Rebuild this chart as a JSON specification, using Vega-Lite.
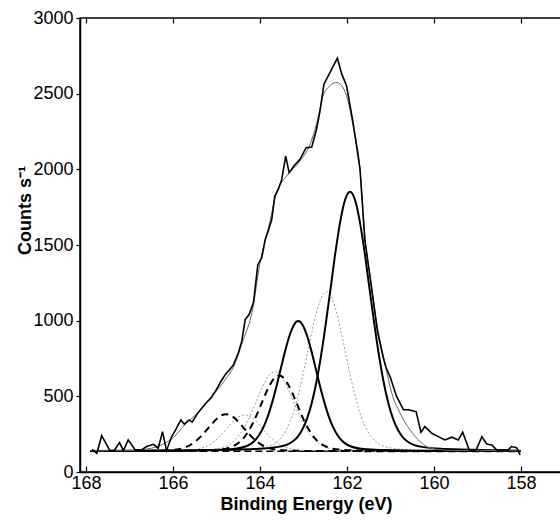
{
  "$schema": "https://vega.github.io/schema/vega-lite/v6.json",
  "width": 482,
  "height": 454,
  "autosize": {"type": "none"},
  "padding": {"left": 80, "top": 18, "right": 0, "bottom": 49},
  "config": {
    "view": {"stroke": "black", "strokeWidth": 1.5},
    "axis": {"domainColor": "black", "domainWidth": 1.5, "tickColor": "black", "tickWidth": 1.2, "labelColor": "black", "titleColor": "black", "labelFont": "Liberation Sans", "titleFont": "Liberation Sans", "labelFontSize": 18, "titleFontSize": 18, "grid": false, "labelFlush": false, "labelOverlap": false}
  },
  "datasets": {
    "base": [{"x": 167.9, "y": 137}, {"x": 158.0, "y": 137}],
    "raw": [
      {"x":167.86,"y":150},{"x":167.75,"y":124},{"x":167.64,"y":240},{"x":167.45,"y":141},{"x":167.35,"y":141},{"x":167.23,"y":194},{"x":167.14,"y":141},{"x":167.03,"y":212},{"x":166.87,"y":146},{"x":166.72,"y":146},{"x":166.61,"y":168},{"x":166.45,"y":183},{"x":166.34,"y":157},{"x":166.24,"y":267},{"x":166.15,"y":141},{"x":166.03,"y":234},{"x":165.94,"y":278},{"x":165.82,"y":344},{"x":165.74,"y":316},{"x":165.63,"y":344},{"x":165.56,"y":329},{"x":165.43,"y":389},{"x":165.34,"y":422},{"x":165.23,"y":459},{"x":165.13,"y":488},{"x":165.03,"y":532},{"x":164.97,"y":561},{"x":164.90,"y":598},{"x":164.80,"y":642},{"x":164.70,"y":676},{"x":164.61,"y":709},{"x":164.50,"y":786},{"x":164.42,"y":863},{"x":164.34,"y":1007},{"x":164.25,"y":1040},{"x":164.15,"y":1120},{"x":164.05,"y":1370},{"x":163.96,"y":1415},{"x":163.88,"y":1536},{"x":163.80,"y":1602},{"x":163.73,"y":1668},{"x":163.66,"y":1823},{"x":163.58,"y":1867},{"x":163.50,"y":1933},{"x":163.41,"y":2088},{"x":163.33,"y":1978},{"x":163.22,"y":2022},{"x":163.08,"y":2066},{"x":162.94,"y":2143},{"x":162.81,"y":2148},{"x":162.70,"y":2265},{"x":162.62,"y":2386},{"x":162.53,"y":2563},{"x":162.39,"y":2640},{"x":162.22,"y":2735},{"x":162.12,"y":2629},{"x":162.01,"y":2552},{"x":161.86,"y":2309},{"x":161.70,"y":2000},{"x":161.59,"y":1536},{"x":161.45,"y":1250},{"x":161.30,"y":930},{"x":161.17,"y":760},{"x":161.10,"y":687},{"x":161.01,"y":631},{"x":160.86,"y":499},{"x":160.70,"y":411},{"x":160.59,"y":411},{"x":160.41,"y":399},{"x":160.30,"y":262},{"x":160.21,"y":300},{"x":160.05,"y":256},{"x":159.90,"y":234},{"x":159.75,"y":212},{"x":159.59,"y":230},{"x":159.44,"y":212},{"x":159.34,"y":263},{"x":159.19,"y":146},{"x":159.03,"y":146},{"x":158.90,"y":234},{"x":158.79,"y":185},{"x":158.67,"y":179},{"x":158.56,"y":146},{"x":158.42,"y":146},{"x":158.29,"y":146},{"x":158.22,"y":168},{"x":158.10,"y":161},{"x":158.02,"y":113}
    ],
    "env": [
      {"x":167.9,"y":140},{"x":167.0,"y":142},{"x":166.6,"y":152},{"x":166.3,"y":175},{"x":166.0,"y":225},{"x":165.72,"y":315},{"x":165.42,"y":395},{"x":165.11,"y":499},{"x":164.8,"y":609},{"x":164.6,"y":700},{"x":164.4,"y":860},{"x":164.17,"y":1073},{"x":164.0,"y":1382},{"x":163.8,"y":1620},{"x":163.62,"y":1845},{"x":163.39,"y":1955},{"x":163.08,"y":2055},{"x":162.85,"y":2165},{"x":162.7,"y":2300},{"x":162.55,"y":2485},{"x":162.39,"y":2552},{"x":162.25,"y":2574},{"x":162.12,"y":2552},{"x":162.01,"y":2485},{"x":161.86,"y":2287},{"x":161.7,"y":2000},{"x":161.59,"y":1560},{"x":161.45,"y":1250},{"x":161.3,"y":960},{"x":161.13,"y":720},{"x":160.97,"y":521},{"x":160.78,"y":389},{"x":160.55,"y":278},{"x":160.32,"y":201},{"x":160.17,"y":168},{"x":159.94,"y":150},{"x":159.5,"y":142},{"x":158.0,"y":140}
    ],
    "comp": [
      {"s":"A","x":167.9,"y":139},{"s":"A","x":165.23,"y":144},{"s":"A","x":164.13,"y":152},{"s":"A","x":163.58,"y":166},{"s":"A","x":163.25,"y":202},{"s":"A","x":163.14,"y":231},{"s":"A","x":163.03,"y":279},{"s":"A","x":162.92,"y":351},{"s":"A","x":162.81,"y":456},{"s":"A","x":162.70,"y":598},{"s":"A","x":162.59,"y":780},{"s":"A","x":162.48,"y":995},{"s":"A","x":162.37,"y":1229},{"s":"A","x":162.26,"y":1463},{"s":"A","x":162.15,"y":1663},{"s":"A","x":162.04,"y":1802},{"s":"A","x":161.93,"y":1852},{"s":"A","x":161.82,"y":1802},{"s":"A","x":161.71,"y":1663},{"s":"A","x":161.60,"y":1463},{"s":"A","x":161.49,"y":1229},{"s":"A","x":161.38,"y":995},{"s":"A","x":161.27,"y":780},{"s":"A","x":161.16,"y":598},{"s":"A","x":161.05,"y":456},{"s":"A","x":160.94,"y":351},{"s":"A","x":160.83,"y":279},{"s":"A","x":160.72,"y":231},{"s":"A","x":160.61,"y":202},{"s":"A","x":160.28,"y":166},{"s":"A","x":159.73,"y":152},{"s":"A","x":158.63,"y":144},{"s":"A","x":158.0,"y":141},
      {"s":"B","x":167.9,"y":138},{"s":"B","x":166.12,"y":140},{"s":"B","x":165.12,"y":145},{"s":"B","x":164.62,"y":152},{"s":"B","x":164.32,"y":170},{"s":"B","x":164.22,"y":184},{"s":"B","x":164.12,"y":208},{"s":"B","x":164.02,"y":245},{"s":"B","x":163.92,"y":297},{"s":"B","x":163.82,"y":368},{"s":"B","x":163.72,"y":460},{"s":"B","x":163.62,"y":567},{"s":"B","x":163.52,"y":685},{"s":"B","x":163.42,"y":802},{"s":"B","x":163.32,"y":902},{"s":"B","x":163.22,"y":972},{"s":"B","x":163.12,"y":997},{"s":"B","x":163.02,"y":972},{"s":"B","x":162.92,"y":902},{"s":"B","x":162.82,"y":802},{"s":"B","x":162.72,"y":685},{"s":"B","x":162.62,"y":567},{"s":"B","x":162.52,"y":460},{"s":"B","x":162.42,"y":368},{"s":"B","x":162.32,"y":297},{"s":"B","x":162.22,"y":245},{"s":"B","x":162.12,"y":208},{"s":"B","x":162.02,"y":184},{"s":"B","x":161.92,"y":170},{"s":"B","x":161.62,"y":152},{"s":"B","x":161.12,"y":145},{"s":"B","x":160.12,"y":140},{"s":"B","x":158.0,"y":138},
      {"s":"C","x":167.9,"y":138},{"s":"C","x":165.62,"y":141},{"s":"C","x":164.57,"y":146},{"s":"C","x":164.045,"y":155},{"s":"C","x":163.73,"y":177},{"s":"C","x":163.625,"y":195},{"s":"C","x":163.52,"y":225},{"s":"C","x":163.415,"y":269},{"s":"C","x":163.31,"y":333},{"s":"C","x":163.205,"y":421},{"s":"C","x":163.10,"y":533},{"s":"C","x":162.995,"y":665},{"s":"C","x":162.89,"y":809},{"s":"C","x":162.785,"y":953},{"s":"C","x":162.68,"y":1076},{"s":"C","x":162.575,"y":1161},{"s":"C","x":162.47,"y":1192},{"s":"C","x":162.365,"y":1161},{"s":"C","x":162.26,"y":1076},{"s":"C","x":162.155,"y":953},{"s":"C","x":162.05,"y":809},{"s":"C","x":161.945,"y":665},{"s":"C","x":161.84,"y":533},{"s":"C","x":161.735,"y":421},{"s":"C","x":161.63,"y":333},{"s":"C","x":161.525,"y":269},{"s":"C","x":161.42,"y":225},{"s":"C","x":161.315,"y":195},{"s":"C","x":161.21,"y":177},{"s":"C","x":160.895,"y":155},{"s":"C","x":160.37,"y":146},{"s":"C","x":159.32,"y":141},{"s":"C","x":158.0,"y":138},
      {"s":"D","x":167.9,"y":138},{"s":"D","x":166.81,"y":139},{"s":"D","x":165.76,"y":142},{"s":"D","x":165.235,"y":146},{"s":"D","x":164.92,"y":157},{"s":"D","x":164.815,"y":166},{"s":"D","x":164.71,"y":181},{"s":"D","x":164.605,"y":203},{"s":"D","x":164.50,"y":235},{"s":"D","x":164.395,"y":278},{"s":"D","x":164.29,"y":334},{"s":"D","x":164.185,"y":400},{"s":"D","x":164.08,"y":471},{"s":"D","x":163.975,"y":543},{"s":"D","x":163.87,"y":604},{"s":"D","x":163.765,"y":647},{"s":"D","x":163.66,"y":662},{"s":"D","x":163.555,"y":647},{"s":"D","x":163.45,"y":604},{"s":"D","x":163.345,"y":543},{"s":"D","x":163.24,"y":471},{"s":"D","x":163.135,"y":400},{"s":"D","x":163.03,"y":334},{"s":"D","x":162.925,"y":278},{"s":"D","x":162.82,"y":235},{"s":"D","x":162.715,"y":203},{"s":"D","x":162.61,"y":181},{"s":"D","x":162.505,"y":166},{"s":"D","x":162.40,"y":157},{"s":"D","x":162.085,"y":146},{"s":"D","x":161.56,"y":142},{"s":"D","x":160.51,"y":139},{"s":"D","x":158.0,"y":138},
      {"s":"E","x":167.9,"y":138},{"s":"E","x":166.56,"y":139},{"s":"E","x":165.56,"y":142},{"s":"E","x":165.06,"y":146},{"s":"E","x":164.76,"y":156},{"s":"E","x":164.66,"y":165},{"s":"E","x":164.56,"y":179},{"s":"E","x":164.46,"y":200},{"s":"E","x":164.36,"y":230},{"s":"E","x":164.26,"y":272},{"s":"E","x":164.16,"y":325},{"s":"E","x":164.06,"y":387},{"s":"E","x":163.96,"y":456},{"s":"E","x":163.86,"y":524},{"s":"E","x":163.76,"y":582},{"s":"E","x":163.66,"y":623},{"s":"E","x":163.56,"y":637},{"s":"E","x":163.46,"y":623},{"s":"E","x":163.36,"y":582},{"s":"E","x":163.26,"y":524},{"s":"E","x":163.16,"y":456},{"s":"E","x":163.06,"y":387},{"s":"E","x":162.96,"y":325},{"s":"E","x":162.86,"y":272},{"s":"E","x":162.76,"y":230},{"s":"E","x":162.66,"y":200},{"s":"E","x":162.56,"y":179},{"s":"E","x":162.46,"y":165},{"s":"E","x":162.36,"y":156},{"s":"E","x":162.06,"y":146},{"s":"E","x":161.56,"y":142},{"s":"E","x":160.56,"y":139},{"s":"E","x":158.0,"y":138},
      {"s":"F","x":167.9,"y":137},{"s":"F","x":167.78,"y":138},{"s":"F","x":166.78,"y":139},{"s":"F","x":166.28,"y":141},{"s":"F","x":165.98,"y":146},{"s":"F","x":165.88,"y":150},{"s":"F","x":165.78,"y":157},{"s":"F","x":165.68,"y":168},{"s":"F","x":165.58,"y":183},{"s":"F","x":165.48,"y":203},{"s":"F","x":165.38,"y":229},{"s":"F","x":165.28,"y":260},{"s":"F","x":165.18,"y":293},{"s":"F","x":165.08,"y":326},{"s":"F","x":164.98,"y":355},{"s":"F","x":164.88,"y":375},{"s":"F","x":164.78,"y":382},{"s":"F","x":164.68,"y":375},{"s":"F","x":164.58,"y":355},{"s":"F","x":164.48,"y":326},{"s":"F","x":164.38,"y":293},{"s":"F","x":164.28,"y":260},{"s":"F","x":164.18,"y":229},{"s":"F","x":164.08,"y":203},{"s":"F","x":163.98,"y":183},{"s":"F","x":163.88,"y":168},{"s":"F","x":163.78,"y":157},{"s":"F","x":163.68,"y":150},{"s":"F","x":163.58,"y":146},{"s":"F","x":163.28,"y":141},{"s":"F","x":162.78,"y":139},{"s":"F","x":161.78,"y":138},{"s":"F","x":158.0,"y":137},
      {"s":"G","x":167.9,"y":137},{"s":"G","x":167.35,"y":138},{"s":"G","x":166.35,"y":139},{"s":"G","x":165.85,"y":141},{"s":"G","x":165.55,"y":146},{"s":"G","x":165.45,"y":150},{"s":"G","x":165.35,"y":157},{"s":"G","x":165.25,"y":167},{"s":"G","x":165.15,"y":182},{"s":"G","x":165.05,"y":202},{"s":"G","x":164.95,"y":227},{"s":"G","x":164.85,"y":257},{"s":"G","x":164.75,"y":290},{"s":"G","x":164.65,"y":323},{"s":"G","x":164.55,"y":351},{"s":"G","x":164.45,"y":370},{"s":"G","x":164.35,"y":377},{"s":"G","x":164.25,"y":370},{"s":"G","x":164.15,"y":351},{"s":"G","x":164.05,"y":323},{"s":"G","x":163.95,"y":290},{"s":"G","x":163.85,"y":257},{"s":"G","x":163.75,"y":227},{"s":"G","x":163.65,"y":202},{"s":"G","x":163.55,"y":182},{"s":"G","x":163.45,"y":167},{"s":"G","x":163.35,"y":157},{"s":"G","x":163.25,"y":150},{"s":"G","x":163.15,"y":146},{"s":"G","x":162.85,"y":141},{"s":"G","x":162.35,"y":139},{"s":"G","x":161.35,"y":138},{"s":"G","x":158.0,"y":137}
    ]
  },
  "resolve": {"axis": {"x": "independent"}},
  "layer": [
    {
      "data": {"name": "base"},
      "mark": {"type": "line", "color": "black", "strokeWidth": 1.5, "strokeDash": [7, 4]},
      "encoding": {
        "x": {"field": "x", "type": "quantitative", "scale": {"domain": [157.057, 168.138], "reverse": true, "nice": false, "zero": false},
              "axis": {"orient": "top", "values": [168, 166, 164, 162, 160, 158], "labels": false, "tickSize": -5, "domain": false, "title": null}},
        "y": {"field": "y", "type": "quantitative", "scale": {"domain": [0, 3000], "nice": false},
              "axis": {"values": [0, 500, 1000, 1500, 2000, 2500, 3000], "format": "d", "tickSize": 4, "labelPadding": 3, "title": "Counts s⁻¹", "titleFontWeight": "bold", "titleX": -55, "titleY": 192, "titleAlign": "center", "titleBaseline": "middle", "titleAngle": -90}}
      }
    },
    {
      "data": {"name": "comp"},
      "transform": [{"filter": "datum.s == 'C' || datum.s == 'D' || datum.s == 'G'"}],
      "mark": {"type": "line", "color": "#9a9a9a", "strokeWidth": 1, "strokeDash": [2, 2], "interpolate": "monotone"},
      "encoding": {
        "x": {"field": "x", "type": "quantitative", "axis": null},
        "y": {"field": "y", "type": "quantitative"},
        "detail": {"field": "s"}
      }
    },
    {
      "data": {"name": "comp"},
      "transform": [{"filter": "datum.s == 'E' || datum.s == 'F'"}],
      "mark": {"type": "line", "color": "black", "strokeWidth": 2, "strokeDash": [7, 5], "interpolate": "monotone"},
      "encoding": {
        "x": {"field": "x", "type": "quantitative", "axis": null},
        "y": {"field": "y", "type": "quantitative"},
        "detail": {"field": "s"}
      }
    },
    {
      "data": {"name": "comp"},
      "transform": [{"filter": "datum.s == 'A' || datum.s == 'B'"}],
      "mark": {"type": "line", "color": "black", "strokeWidth": 2, "interpolate": "monotone"},
      "encoding": {
        "x": {"field": "x", "type": "quantitative", "axis": null},
        "y": {"field": "y", "type": "quantitative"},
        "detail": {"field": "s"}
      }
    },
    {
      "data": {"name": "env"},
      "mark": {"type": "line", "color": "#666666", "strokeWidth": 1, "interpolate": "monotone"},
      "encoding": {
        "x": {"field": "x", "type": "quantitative", "axis": null},
        "y": {"field": "y", "type": "quantitative"}
      }
    },
    {
      "data": {"name": "raw"},
      "mark": {"type": "line", "color": "black", "strokeWidth": 1.6},
      "encoding": {
        "x": {"field": "x", "type": "quantitative",
              "axis": {"orient": "bottom", "values": [168, 166, 164, 162, 160, 158], "tickSize": -6, "labelPadding": 8, "title": "Binding Energy (eV)", "titleFontWeight": "bold", "titleX": 226, "titleY": 37, "titleBaseline": "alphabetic", "titleAlign": "center"}},
        "y": {"field": "y", "type": "quantitative"}
      }
    }
  ]
}
